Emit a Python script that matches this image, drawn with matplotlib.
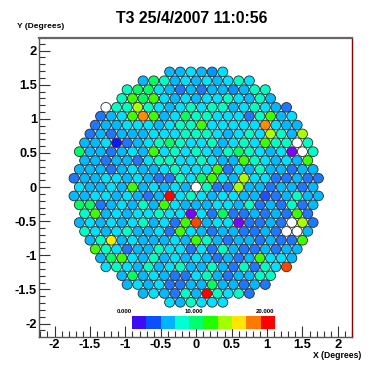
import numpy as np
import matplotlib
matplotlib.use("Agg")
import matplotlib.pyplot as plt
from matplotlib.patches import Circle
from matplotlib.colors import ListedColormap
from matplotlib.ticker import MultipleLocator

plt.rcParams['font.family'] = ['Liberation Sans', 'DejaVu Sans']

title = "T3 25/4/2007 11:0:56"
x_title = "X (Degrees)"
y_title = "Y (Degrees)"
tick_values = [-2, -1.5, -1, -0.5, 0, 0.5, 1, 1.5, 2]
tick_labels = ["-2", "-1.5", "-1", "-0.5", "0", "0.5", "1", "1.5", "2"]

# colour scale (10 bins) and its labels
palette = ['#3c0cf5', '#0a50ff', '#00b4ff', '#00ffd2', '#00ff6e',
           '#1eff00', '#a0ff00', '#ffe600', '#ff7800', '#ff0000']
scale_values = [0.0, 10.0, 20.0]
scale_labels = ["0.000", "10.000", "20.000"]

# pixel colour codes
code_colors = {
    'P': '#8000ff', 'D': '#1414ff', 'd': '#1e50ff', 'B': '#1e78ff',
    'b': '#0096ff', 'c': '#00b9ff', 'C': '#00e1ff', 'a': '#00ffc3',
    'g': '#00ff64', 'G': '#3cff00', 'y': '#aaff00', 'Y': '#f0f000',
    'O': '#ff8c00', 'o': '#ff4600', 'R': '#ff0000', 'W': '#ffffff',
}

# camera rows: row index (from centre) and pixel colour codes, left to right
row_index = list(range(13, -14, -1))
row_codes = [
    "ccCcbC",                      # 13
    "cgacCcCcCaC",                 # 12
    "aggCcBcBccbcaa",              # 11
    "aGgGCcCcCCaCcac",             # 10
    "WaayaCcCaCaacCaCcB",          # 9
    "BcCGOGcCgaaCCCBaGcC",         # 8
    "BccCCCcCaaGCCCCCOCcc",        # 7
    "BcBcccCCCaaaCcCaCyacy",       # 6
    "ccCDBcCagaCCacCaCGaaWa",      # 5
    "gccBcCcGCaCaCcagaCcCPWa",     # 4
    "ccBccBCaaCCaCccGaCcCcG",      # 3
    "cccBcCccCaCCCGBCcaccBcc",     # 2
    "BccCCcCcBBaCgGCcyCCBBcBB",    # 1
    "CccCcGcCcCcWaBByccBccBc",     # 0
    "ccCCcCcBcRCaCcCCccdBcacc",    # -1
    "ggBcCcacGCcccCCcaBcBaBc",     # -2
    "aGcCcCCaCCPCBgBBcBcBGB",      # -3
    "cCcCcCacCBGocCCPBBcBWyB",     # -4
    "aCcCaccCBGCcBccBBcBWWc",      # -5
    "caYcCcccCcGacBccBcBBG",       # -6
    "GaCBccaCCBCBacBBcBcc",        # -7
    "cgGCcacCcCcBcBcGCCc",         # -8
    "CaCcacCaccacBaBaCo",          # -9
    "cgcCcBBCacBccaa",             # -10
    "cCcCBBccgccBcB",              # -11
    "cCcBacRaCaB",                 # -12
    "CcaCCC",                      # -13
]
spacing = 0.15

W, H = 392, 375
fig = plt.figure(figsize=(W / 100, H / 100), dpi=100)
fig.patch.set_facecolor('white')

ax_l, ax_r, ax_t, ax_b = 39, 352, 37.7, 336.5
ax = fig.add_axes([ax_l / W, 1 - ax_b / H, (ax_r - ax_l) / W, (ax_b - ax_t) / H])
ax.set_xlim(-2.22, 2.2)
ax.set_ylim(-2.19, 2.19)

dy = spacing * np.sqrt(3) / 2
for j, codes in zip(row_index, row_codes):
    n = len(codes)
    for i, ch in enumerate(codes):
        k = i - (n - 1) / 2
        ax.add_patch(Circle((k * spacing, j * dy), 0.071,
                            facecolor=code_colors[ch], edgecolor='#2a2a2a',
                            linewidth=0.6))

ax.set_xticks(tick_values)
ax.set_xticklabels(tick_labels)
ax.set_yticks(tick_values)
ax.set_yticklabels(tick_labels)
ax.xaxis.set_minor_locator(MultipleLocator(0.1))
ax.yaxis.set_minor_locator(MultipleLocator(0.1))
ax.tick_params(which='both', direction='in', top=False, right=False,
               colors='#333333', width=0.8)
ax.tick_params(which='major', length=8)
ax.tick_params(which='minor', length=4)
ax.tick_params(axis='x', which='major', pad=2.0)
ax.tick_params(axis='y', which='major', pad=1.5)
for lab in ax.get_xticklabels() + ax.get_yticklabels():
    lab.set_fontsize(9.3)
    lab.set_fontweight('bold')
    lab.set_color('black')
for s in ['left', 'bottom']:
    ax.spines[s].set_color('#555555')
    ax.spines[s].set_linewidth(1.0)
ax.spines['top'].set_color('#666666')
ax.spines['top'].set_linewidth(1.6)
ax.spines['right'].set_color('#8b0000')
ax.spines['right'].set_linewidth(1.0)

# colour scale bar
cb_l, cb_r, cb_t, cb_b = 131.7, 274, 316, 329.3
cax = fig.add_axes([cb_l / W, 1 - cb_b / H, (cb_r - cb_l) / W, (cb_b - cb_t) / H])
cax.imshow(np.arange(len(palette))[None, :], cmap=ListedColormap(palette),
           aspect='auto', extent=(scale_values[0], scale_values[-1], 0, 1))
cax.set_axis_off()
for v, lab in zip(scale_values, scale_labels):
    xp = cb_l + (v - scale_values[0]) / (scale_values[-1] - scale_values[0]) * (cb_r - cb_l)
    fig.text(xp / W, 1 - 311.5 / H, lab, ha='right', va='center',
             fontsize=4.3, fontweight='bold')

fig.text(191.7 / W, 1 - 18.3 / H, title, ha='center', va='center',
         fontsize=11.4, fontweight='bold')
fig.text(17 / W, 1 - 27 / H, y_title, ha='left', va='center',
         fontsize=6, fontweight='bold')
fig.text(361.7 / W, 1 - 355 / H, x_title, ha='right', va='center',
         fontsize=6.2, fontweight='bold')

fig.savefig("out.png", dpi=100)
